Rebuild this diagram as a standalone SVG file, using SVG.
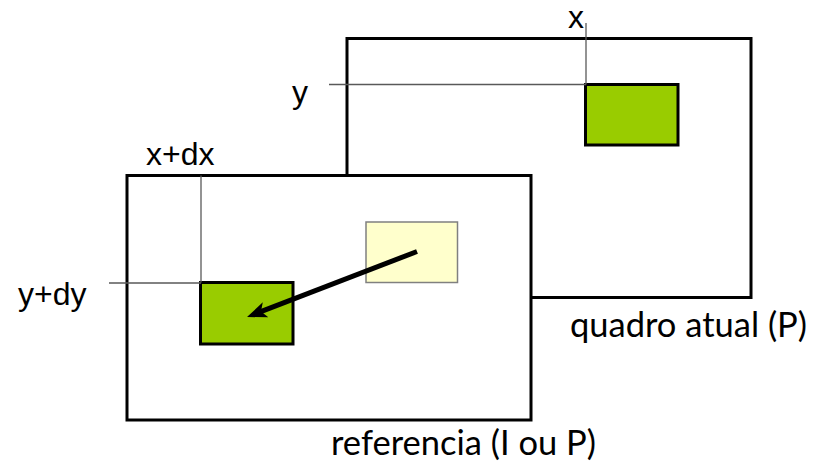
<svg xmlns="http://www.w3.org/2000/svg" width="814" height="468" viewBox="0 0 814 468">
<style>
.frame{fill:#fff;stroke:#000;stroke-width:3}
.blk{fill:#99CC00;stroke:#000;stroke-width:3}
.ghost{fill:#FFFFCC;stroke:#808080;stroke-width:1.5}
.guide{stroke:#595959;stroke-width:1.3;fill:none}
.coord{font-family:"Liberation Sans",Arial,sans-serif;font-size:32px;fill:#000}
.cap{font-family:Lato,"Open Sans","Liberation Sans",sans-serif;font-size:34.5px;fill:#000}
</style>
<defs>
<marker id="ah" viewBox="0 0 20 16" refX="8" refY="8" markerWidth="20" markerHeight="16" orient="auto" markerUnits="userSpaceOnUse">
<path d="M0,0 L20,8 L0,16 L5,8 z" fill="#000"/>
</marker>
</defs>
<g id="current-frame">
<rect class="frame" x="347" y="38.5" width="404" height="259"/>
<rect class="blk" x="585.5" y="84.5" width="92.5" height="60.5"/>
<text class="coord" x="568" y="28">x</text>
<text class="coord" x="292" y="103">y</text>
<text class="cap" x="570" y="337">quadro atual (P)</text>
</g>
<g id="reference-frame">
<rect class="frame" x="127" y="175.5" width="404" height="244.5"/>
<rect class="ghost" x="366" y="222" width="91.5" height="60.5"/>
<rect class="blk" x="200.5" y="282.5" width="92.5" height="61.5"/>
<text class="coord" x="146" y="165">x+dx</text>
<text class="coord" x="18" y="305">y+dy</text>
<text class="cap" x="331" y="455">referencia (I ou P)</text>
</g>
<g id="connectors">
<path class="guide" d="M586,23 V84.5"/>
<path class="guide" d="M329,84.5 H586"/>
<path class="guide" d="M201,175.5 V282.5"/>
<path class="guide" d="M109,283 H201"/>
<path d="M417,251.5 L258.2,312.7" stroke="#000" stroke-width="5" fill="none" marker-end="url(#ah)"/>
</g>
</svg>
